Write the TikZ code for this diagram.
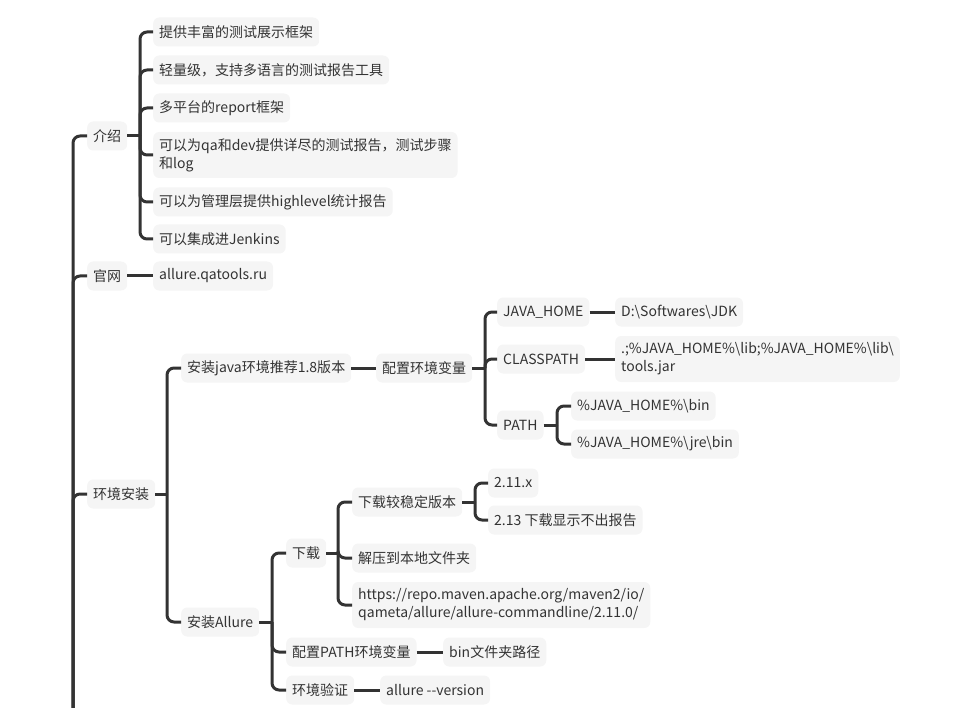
\documentclass[tikz,border=0pt]{standalone}
\usepackage{fontspec}
\setmainfont{Noto Sans CJK SC}
\definecolor{boxgray}{HTML}{F5F5F5}
\definecolor{linegray}{HTML}{333333}
\definecolor{textgray}{HTML}{333333}
\tikzset{
  mm/.style={fill=boxgray, rounded corners=6pt, inner xsep=6pt, inner ysep=0pt,
    minimum height=29pt, text=textgray, anchor=west, align=left,
    font=\fontsize{14}{18}\selectfont},
  mmtwo/.style={mm, minimum height=46pt},
  conn/.style={draw=linegray, line width=3pt, rounded corners=7pt, line cap=butt},
  stub/.style={draw=linegray, line width=3pt},
}
\newcommand{\bs}{\textbackslash{}}
\begin{document}
\begin{tikzpicture}[x=1pt,y=-1pt]
\useasboundingbox (0,0) rectangle (957,708);
\clip (0,0) rectangle (957,708);
% level 1
\node[mm] (jieshao) at (87,136) {介绍};
\node[mm] (guanwang) at (87,276) {官网};
\node[mm] (huanjing) at (87,494) {环境安装};
% 介绍 children
\node[mm] (c1) at (153,32) {提供丰富的测试展示框架};
\node[mm] (c2) at (153,70) {轻量级，支持多语言的测试报告工具};
\node[mm] (c3) at (153,108) {多平台的report框架};
\node[mmtwo] (c4) at (153,155) {可以为qa和dev提供详尽的测试报告，测试步骤\\和log};
\node[mm] (c5) at (153,202) {可以为管理层提供highlevel统计报告};
\node[mm] (c6) at (153,239) {可以集成进Jenkins};
% 官网
\node[mm] (gw1) at (153,276) {allure.qatools.ru};
% 环境安装
\node[mm] (java) at (181,368) {安装java环境推荐1.8版本};
\node[mm] (peizhi) at (376,368) {配置环境变量};
\node[mm] (jh) at (497,312) {JAVA\_HOME};
\node[mm] (jhv) at (615,312) {D:\bs Softwares\bs JDK};
\node[mm] (cp) at (497,359) {CLASSPATH};
\node[mmtwo] (cpv) at (615,359) {.;\%JAVA\_HOME\%\bs lib;\%JAVA\_HOME\%\bs lib\bs\\tools.jar};
\node[mm] (path) at (497,425) {PATH};
\node[mm] (p1) at (571,406) {\%JAVA\_HOME\%\bs bin};
\node[mm] (p2) at (571,444) {\%JAVA\_HOME\%\bs jre\bs bin};
\node[mm] (allure) at (181,622) {安装Allure};
\node[mm] (xz) at (286,553) {下载};
\node[mm] (xzwd) at (352,502) {下载较稳定版本};
\node[mm] (v1) at (488,483) {2.11.x};
\node[mm] (v2) at (488,520) {2.13 下载显示不出报告};
\node[mm] (jy) at (352,558) {解压到本地文件夹};
\node[mmtwo] (url) at (352,605) {https://repo.maven.apache.org/maven2/io/\\qameta/allure/allure-commandline/2.11.0/};
\node[mm] (pzpath) at (286,652) {配置PATH环境变量};
\node[mm] (bin) at (443,652) {bin文件夹路径};
\node[mm] (yz) at (286,690) {环境验证};
\node[mm] (ver) at (380,690) {allure -\kern0pt-version};
% root connectors
\coordinate (rootj) at (73,760);
\foreach \n in {jieshao,guanwang,huanjing} \draw[conn] (rootj) |- (\n.west);
% 介绍
\coordinate (bj) at (140,136);
\draw[stub] (jieshao.east) -- (bj);
\foreach \n in {c1,c2,c3,c4,c5,c6} \draw[conn] (bj) |- (\n.west);
% 官网
\draw[stub] (guanwang.east) -- (gw1.west);
% 环境安装
\coordinate (bh) at (167,494);
\draw[stub] (huanjing.east) -- (bh);
\foreach \n in {java,allure} \draw[conn] (bh) |- (\n.west);
\draw[stub] (java.east) -- (peizhi.west);
\coordinate (bp) at (485,368);
\draw[stub] (peizhi.east) -- (bp);
\foreach \n in {jh,cp,path} \draw[conn] (bp) |- (\n.west);
\draw[stub] (jh.east) -- (jhv.west);
\draw[stub] (cp.east) -- (cpv.west);
\coordinate (bpa) at (557,425);
\draw[stub] (path.east) -- (bpa);
\foreach \n in {p1,p2} \draw[conn] (bpa) |- (\n.west);
% 安装Allure
\coordinate (ba) at (272,622);
\draw[stub] (allure.east) -- (ba);
\foreach \n in {xz,pzpath,yz} \draw[conn] (ba) |- (\n.west);
\coordinate (bx) at (338,553);
\draw[stub] (xz.east) -- (bx);
\foreach \n in {xzwd,jy,url} \draw[conn] (bx) |- (\n.west);
\coordinate (bw) at (475,502);
\draw[stub] (xzwd.east) -- (bw);
\foreach \n in {v1,v2} \draw[conn] (bw) |- (\n.west);
\draw[stub] (pzpath.east) -- (bin.west);
\draw[stub] (yz.east) -- (ver.west);
\end{tikzpicture}
\end{document}
